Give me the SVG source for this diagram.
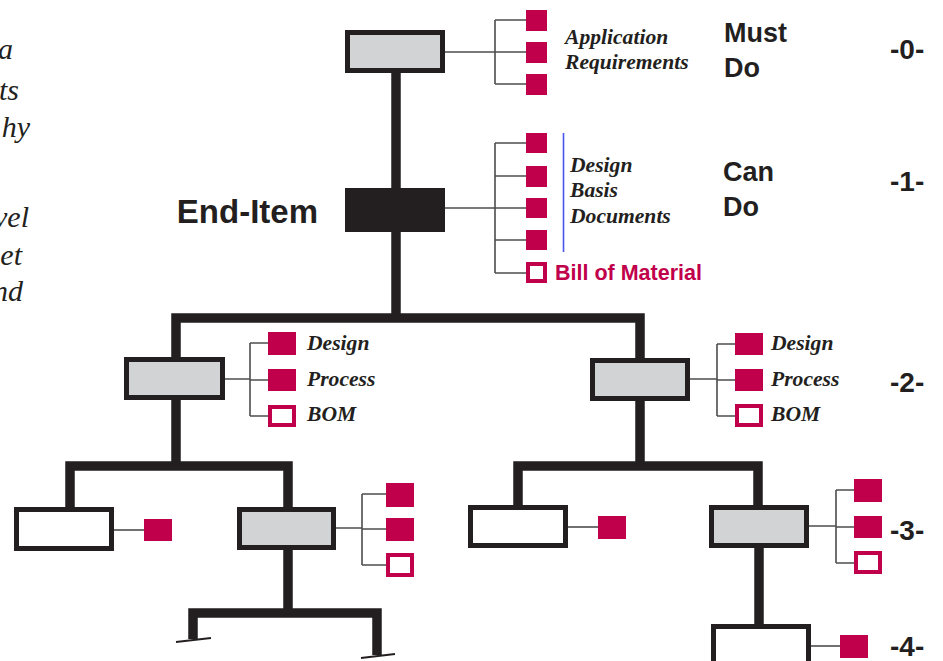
<svg xmlns="http://www.w3.org/2000/svg" width="943" height="661" viewBox="0 0 943 661">
<style>
.bar{fill:none;stroke:#231f20;stroke-width:9.5;stroke-linejoin:miter;stroke-linecap:butt}
.thin{fill:none;stroke:#4d4d4d;stroke-width:1.6}
.foot{fill:none;stroke:#231f20;stroke-width:2}
.gray{fill:#d1d3d4;stroke:#231f20;stroke-width:5}
.white{fill:#ffffff;stroke:#231f20;stroke-width:5}
.sq{fill:#c1004b}
.osq{fill:#ffffff;stroke:#c1004b;stroke-width:4}
.it{font-family:"Liberation Serif",serif;font-style:italic;font-weight:bold;font-size:21.6px;fill:#231f20}
.frag{font-family:"Liberation Serif",serif;font-style:italic;font-size:30px;fill:#231f20}
.lvl{font-family:"Liberation Sans",Arial,sans-serif;font-weight:bold;font-size:27px;fill:#231f20}
.num{font-family:"Liberation Sans",Arial,sans-serif;font-weight:bold;font-size:28px;fill:#231f20}
</style>
<rect width="943" height="661" fill="#ffffff"/>
<g id="fragments">
<text class="frag" x="13" y="59" text-anchor="end">a</text>
<text class="frag" x="19" y="100" text-anchor="end">ts</text>
<text class="frag" x="30" y="137" text-anchor="end">hy</text>
<text class="frag" x="29" y="227" text-anchor="end">vel</text>
<text class="frag" x="22" y="265" text-anchor="end">et</text>
<text class="frag" x="23" y="301" text-anchor="end">nd</text>
</g>
<g id="connectors">
<path class="bar" d="M396,73 V318"/>
<path class="bar" d="M176,400 V318 H640 V358"/>
<path class="bar" d="M176,400 V466"/>
<path class="bar" d="M70,507 V466 H288 V507"/>
<path class="bar" d="M288,550 V613"/>
<path class="bar" d="M193,639 V613 H377 V655"/>
<path class="foot" d="M176,642 L211,638 M361,658 L395,654"/>
<path class="bar" d="M640,401 V466"/>
<path class="bar" d="M518,505 V466 H758 V505"/>
<path class="bar" d="M759,548 V624"/>
<path class="thin" d="M445,52 H495 M495,20 V84 M495,20 H526 M495,52 H526 M495,84 H526"/>
<path class="thin" d="M445,208 H495 M495,143 V273 M495,143 H526 M495,176 H526 M495,208 H526 M495,240 H526 M495,273 H526"/>
<path class="thin" d="M225,379 H250 M250,343 V416 M250,343 H268 M250,380 H268 M250,416 H268"/>
<path class="thin" d="M690,379 H717 M717,344 V416 M717,344 H735 M717,380 H735 M717,416 H735"/>
<path class="thin" d="M114,530 H144"/>
<path class="thin" d="M336,528 H362 M362,494 V565 M362,494 H386 M362,529 H386 M362,565 H386"/>
<path class="thin" d="M568,527 H598"/>
<path class="thin" d="M809,526 H836 M836,490 V563 M836,490 H854 M836,527 H854 M836,563 H854"/>
<path class="thin" d="M811,646 H840"/>
<line x1="563.5" y1="133" x2="563.5" y2="252" stroke="#4a55ee" stroke-width="1.6"/>
</g>
<g id="node-top">
<rect class="gray" x="347.5" y="32.5" width="95" height="38"/>
<rect class="sq" x="526" y="10" width="21" height="21"/>
<rect class="sq" x="526" y="42" width="21" height="21"/>
<rect class="sq" x="526" y="74" width="21" height="21"/>
<text class="it" x="565" y="44">Application</text>
<text class="it" x="565" y="69">Requirements</text>
</g>
<g id="node-end-item">
<rect x="345" y="188" width="100" height="44" fill="#231f20"/>
<text x="318" y="223" text-anchor="end" font-family="Liberation Sans, Arial, sans-serif" font-weight="bold" font-size="33" fill="#231f20">End-Item</text>
<rect class="sq" x="526" y="133" width="21" height="20"/>
<rect class="sq" x="526" y="166" width="21" height="21"/>
<rect class="sq" x="526" y="198" width="21" height="20"/>
<rect class="sq" x="526" y="230" width="21" height="20"/>
<rect class="osq" x="528" y="264" width="17" height="17"/>
<text class="it" x="570" y="172">Design</text>
<text class="it" x="570" y="197">Basis</text>
<text class="it" x="570" y="223">Documents</text>
<text x="555" y="280" font-family="Liberation Sans, Arial, sans-serif" font-weight="bold" font-size="21.5" fill="#c1004b">Bill of Material</text>
</g>
<g id="node-l2-left">
<rect class="gray" x="126.5" y="359.5" width="96" height="38"/>
<rect class="sq" x="268" y="332" width="28" height="23"/>
<rect class="sq" x="268" y="369" width="28" height="22"/>
<rect class="osq" x="270" y="407" width="24" height="18"/>
<text class="it" x="307" y="350">Design</text>
<text class="it" x="307" y="386">Process</text>
<text class="it" x="307" y="421">BOM</text>
</g>
<g id="node-l2-right">
<rect class="gray" x="592.5" y="360.5" width="95" height="38"/>
<rect class="sq" x="735" y="333" width="28" height="22"/>
<rect class="sq" x="735" y="369" width="28" height="22"/>
<rect class="osq" x="737" y="406" width="24" height="19"/>
<text class="it" x="771" y="350">Design</text>
<text class="it" x="771" y="386">Process</text>
<text class="it" x="771" y="421">BOM</text>
</g>
<g id="node-l3-a">
<rect class="white" x="16.5" y="509.5" width="95" height="39"/>
<rect class="sq" x="144" y="519" width="28" height="22"/>
</g>
<g id="node-l3-b">
<rect class="gray" x="239.5" y="509.5" width="94" height="38"/>
<rect class="sq" x="386" y="483" width="28" height="24"/>
<rect class="sq" x="386" y="518" width="28" height="23"/>
<rect class="osq" x="388" y="555" width="24" height="20"/>
</g>
<g id="node-l3-c">
<rect class="white" x="470.5" y="507.5" width="95" height="38"/>
<rect class="sq" x="598" y="516" width="28" height="23"/>
</g>
<g id="node-l3-d">
<rect class="gray" x="711.5" y="507.5" width="95" height="38"/>
<rect class="sq" x="854" y="479" width="28" height="23"/>
<rect class="sq" x="854" y="516" width="28" height="22"/>
<rect class="osq" x="856" y="553" width="24" height="19"/>
</g>
<g id="node-l4">
<rect class="white" x="713.5" y="626.5" width="95" height="45"/>
<rect class="sq" x="840" y="635" width="28" height="23"/>
</g>
<g id="levels">
<text class="lvl" x="724" y="42">Must</text>
<text class="lvl" x="724" y="77">Do</text>
<text class="lvl" x="723" y="181">Can</text>
<text class="lvl" x="723" y="216">Do</text>
<text class="num" x="890" y="59">-0-</text>
<text class="num" x="890" y="191">-1-</text>
<text class="num" x="890" y="392">-2-</text>
<text class="num" x="890" y="540">-3-</text>
<text class="num" x="890" y="656">-4-</text>
</g>
</svg>
